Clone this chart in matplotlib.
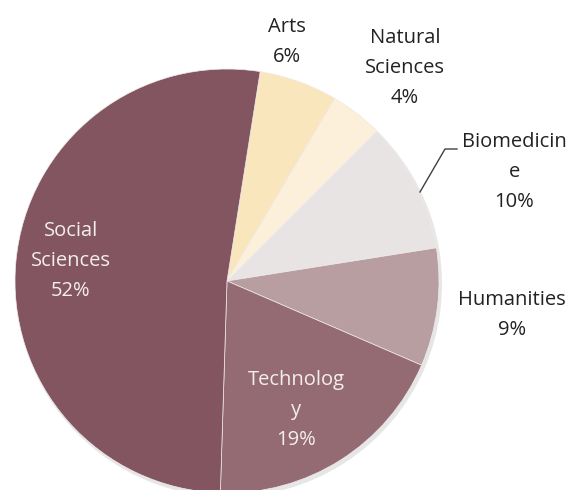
import matplotlib
matplotlib.use("Agg")
import matplotlib.pyplot as plt

# data
categories = ["Arts", "Natural Sciences", "Biomedicine", "Humanities", "Technology", "Social Sciences"]
shares = [6, 4, 10, 9, 19, 52]
colors = ["#F9E6BD", "#FCF0DA", "#E9E4E4", "#B89DA1", "#946B73", "#835560"]

# how each label is wrapped (the chart breaks some words mid-way)
label_lines = [["Arts"], ["Natural", "Sciences"], ["Biomedicin", "e"],
               ["Humanities"], ["Technolog", "y"], ["Social", "Sciences"]]
# label centre x and first-line y in pixels (y from top), text colour
label_x = [287, 405, 514, 512, 296, 71]
label_y0 = [27, 38, 142, 300, 380, 231]
label_col = ["#222222"] * 4 + ["#F3EEEF"] * 2

W, H = 576, 490
LINE = 30
plt.rcParams["font.family"] = ["Open Sans", "DejaVu Sans"]

fig = plt.figure(figsize=(W / 100, H / 100), dpi=100)
ax = fig.add_axes([0, 0, 1, 1])

cx, cy, r = 227, H - 281, 212

# faint shadow under the pie
ax.pie(shares, startangle=81, counterclock=False, radius=r + 1,
       center=(cx + 2, cy - 3), colors=["#d6d6d6"] * len(shares),
       wedgeprops=dict(linewidth=0, alpha=0.6))
ax.pie(shares, startangle=81, counterclock=False, radius=r,
       center=(cx, cy), colors=colors,
       wedgeprops=dict(edgecolor="#f1ecec", linewidth=0.5))

for lines, val, x, y0, c in zip(label_lines, shares, label_x, label_y0, label_col):
    for i, t in enumerate(lines + [f"{val}%"]):
        ax.text(x, H - (y0 + i * LINE), t, ha="center", va="center",
                fontsize=14.5, color=c)

# leader line for Biomedicine
ax.plot([420, 445, 457], [H - 192, H - 149, H - 149], color="#404040", lw=1)

ax.set_xlim(0, W)
ax.set_ylim(0, H)
ax.set_aspect("equal")
ax.axis("off")

fig.savefig("out.png", dpi=100)
